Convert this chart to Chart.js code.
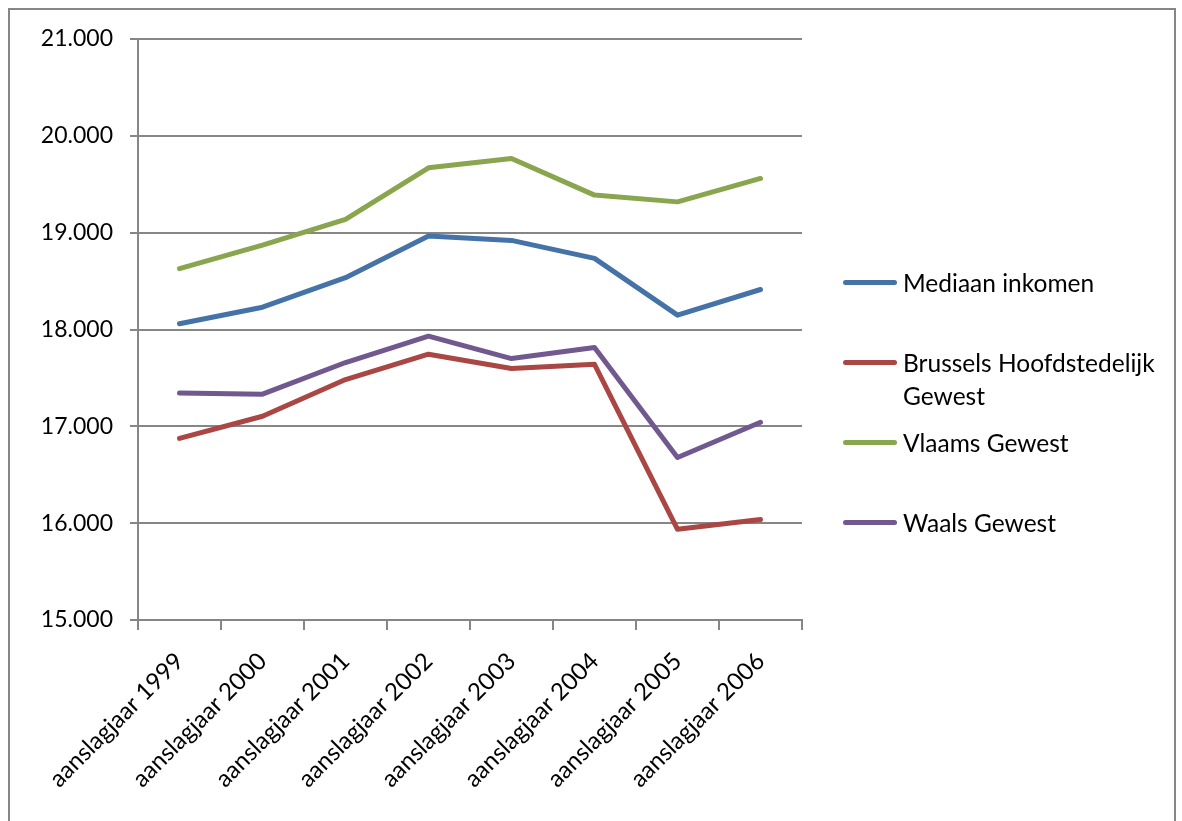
<!DOCTYPE html>
<html>
<head>
<meta charset="utf-8">
<script src="https://cdn.jsdelivr.net/npm/chart.js@4"></script>
<style>
    html, body { margin: 0; padding: 0; background: #fff; overflow: hidden; }
    #wrap { position: relative; width: 1182px; height: 821px; }
    #frame {
        position: absolute; left: 8px; top: 8px; width: 1168px; height: 840px;
        border: 2px solid #868686; box-sizing: border-box;
    }
    #chart { position: absolute; left: 0; top: 0; }
    #legend { position: absolute; left: 843px; top: 0; font-family: Lato, sans-serif; font-size: 24.5px; color: #000; }
    .item { position: absolute; left: 0; width: 320px; }
    .item .swatch { position: absolute; left: 0; width: 54px; height: 5px; border-radius: 3px; }
    .item .text { position: absolute; left: 60px; width: 270px; line-height: 33px; }
</style>
</head>
<body>
<div id="wrap">
    <div id="frame"></div>
    <canvas id="chart" width="1182" height="821"></canvas>
    <div id="legend"></div>
</div>
<script>
// Mediaan inkomen per gewest, aanslagjaren 1999-2006
const years = ['aanslagjaar 1999', 'aanslagjaar 2000', 'aanslagjaar 2001', 'aanslagjaar 2002',
               'aanslagjaar 2003', 'aanslagjaar 2004', 'aanslagjaar 2005', 'aanslagjaar 2006'];
const seriesNames = ['Mediaan inkomen', 'Brussels Hoofdstedelijk Gewest', 'Vlaams Gewest', 'Waals Gewest'];
const mediaan = [18060, 18230, 18535, 18965, 18920, 18735, 18148, 18413];
const brussel = [16875, 17104, 17483, 17745, 17597, 17641, 15937, 16037];
const vlaams = [18628, 18871, 19137, 19670, 19766, 19388, 19318, 19560];
const waals = [17345, 17332, 17659, 17931, 17700, 17814, 16678, 17042];
const yMin = 15000;
const yMax = 21000;
const yStep = 1000;

const colors = ['#4572A7', '#AA4643', '#89A54E', '#71588F'];
const seriesData = [mediaan, brussel, vlaams, waals];

function formatThousands(v) {
    return String(v).replace(/\B(?=(\d{3})+(?!\d))/g, '.');
}

Chart.defaults.font.family = 'Lato, sans-serif';
Chart.defaults.font.size = 23;
Chart.defaults.color = '#000';

const ctx = document.getElementById('chart').getContext('2d');
const chart = new Chart(ctx, {
    type: 'line',
    data: {
        labels: years,
        datasets: seriesNames.map((name, i) => ({
            label: name,
            data: seriesData[i],
            borderColor: colors[i],
            backgroundColor: colors[i],
            borderWidth: 5,
            pointRadius: 0,
            tension: 0,
            borderCapStyle: 'round',
            borderJoinStyle: 'round',
            fill: false
        }))
    },
    options: {
        responsive: false,
        animation: false,
        layout: {
            padding: { left: 0, top: 39, right: 380, bottom: 0 }
        },
        plugins: {
            legend: { display: false },
            tooltip: { enabled: false }
        },
        scales: {
            x: {
                offset: true,
                grid: {
                    offset: true,
                    drawOnChartArea: false,
                    drawTicks: true,
                    tickLength: 10,
                    color: '#868686',
                    lineWidth: 2
                },
                border: { color: '#868686', width: 2 },
                ticks: {
                    minRotation: 45,
                    maxRotation: 45,
                    padding: 17,
                    font: { size: 24 }
                },
                afterFit: function(scale) { scale.height = 201; }
            },
            y: {
                min: yMin,
                max: yMax,
                grid: {
                    color: '#868686',
                    lineWidth: 2,
                    tickLength: 8
                },
                border: { color: '#868686', width: 2 },
                ticks: {
                    stepSize: yStep,
                    padding: 17,
                    font: { size: 23 },
                    callback: function(v) { return formatThousands(v); }
                },
                afterFit: function(scale) { scale.width = 138; }
            }
        }
    }
});

// legend with wrapping text, like the original
const legend = document.getElementById('legend');
const legendCenters = [282, 362, 442, 522];
seriesNames.forEach((name, i) => {
    const item = document.createElement('div');
    item.className = 'item';
    item.style.top = (legendCenters[i] - 16) + 'px';
    const sw = document.createElement('div');
    sw.className = 'swatch';
    sw.style.background = colors[i];
    sw.style.top = '14px';
    const tx = document.createElement('div');
    tx.className = 'text';
    tx.textContent = name;
    item.appendChild(sw);
    item.appendChild(tx);
    legend.appendChild(item);
});
</script>
</body>
</html>
